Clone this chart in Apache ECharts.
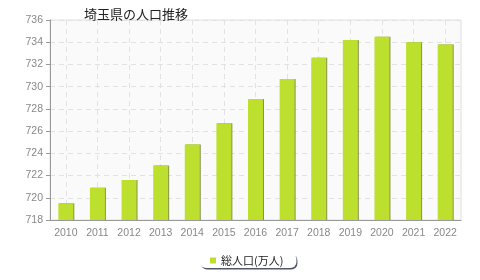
<!DOCTYPE html>
<html><head><meta charset="utf-8">
<script src="https://cdn.jsdelivr.net/npm/echarts@6/dist/echarts.min.js"></script>
<style>html,body{margin:0;padding:0;background:#fff}#c{width:480px;height:280px}</style>
</head><body><div id="c"></div>
<script>
const categories = ['2010','2011','2012','2013','2014','2015','2016','2017','2018','2019','2020','2021','2022'];
const population = [719.5, 720.9, 721.6, 722.9, 724.8, 726.7, 728.9, 730.7, 732.6, 734.2, 734.5, 734.0, 733.8];
const seriesName = '総人口(万人)';
const titleText = '埼玉県の人口推移';
const yMin = 718, yMax = 736, yStep = 2;

const chart = echarts.init(document.getElementById('c'), null, {renderer: 'canvas'});
chart.setOption({
  animation: false,
  title: {
    text: titleText, left: 79, top: 3,
    textStyle: {fontFamily: 'Noto Sans CJK JP', fontSize: 13, fontWeight: 'normal', color: '#222'}
  },
  grid: {
    left: 50, right: 19, top: 20, bottom: 60, show: true,
    backgroundColor: '#fafafa', borderColor: '#e0e0e0', borderWidth: 1
  },
  legend: {
    bottom: 12, left: 200,
    data: [seriesName],
    itemWidth: 6, itemHeight: 6, itemGap: 6,
    icon: 'rect',
    padding: [2, 13, 2, 10],
    backgroundColor: '#fff',
    borderWidth: 0,
    borderRadius: 6,
    shadowColor: 'rgba(60,70,90,0.9)', shadowBlur: 0, shadowOffsetX: 1, shadowOffsetY: 1.5,
    textStyle: {fontFamily: 'Noto Sans CJK JP', fontSize: 11, color: '#222'}
  },
  xAxis: {
    type: 'category', data: categories,
    axisLine: {lineStyle: {color: '#999', width: 1}},
    axisTick: {alignWithLabel: true, length: 4, lineStyle: {color: '#999'}},
    axisLabel: {interval: 0, color: '#888', fontFamily: 'Liberation Sans', fontSize: 10.5, margin: 8},
    splitLine: {show: true, alignWithLabel: true, lineStyle: {color: '#e2e2e2', type: [5, 4]}}
  },
  yAxis: {
    type: 'value', min: yMin, max: yMax, interval: yStep,
    axisLine: {show: true, lineStyle: {color: '#999', width: 1}},
    axisTick: {show: true, length: 4, lineStyle: {color: '#999'}},
    axisLabel: {color: '#888', fontFamily: 'Liberation Sans', fontSize: 10.5, margin: 7},
    splitLine: {show: true, lineStyle: {color: '#e2e2e2', type: [5, 4]}}
  },
  series: [{
    name: seriesName, type: 'bar', data: population,
    barWidth: 15,
    itemStyle: {color: '#bde02e', shadowColor: 'rgba(110,120,40,0.8)', shadowOffsetX: 1, shadowBlur: 0}
  }]
});
</script></body></html>
